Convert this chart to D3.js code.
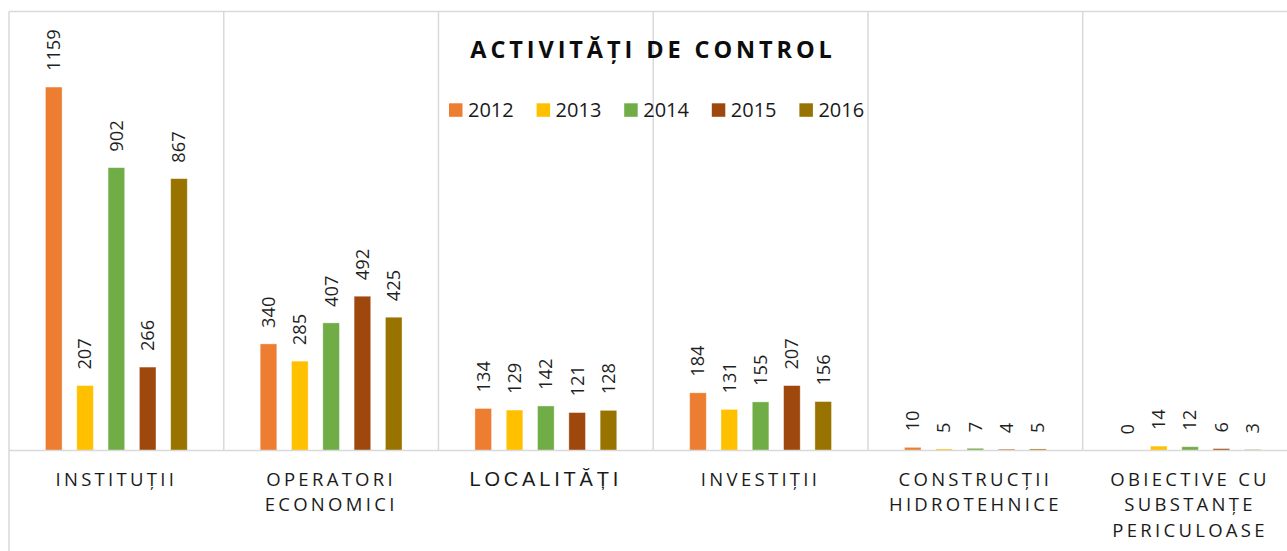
<!DOCTYPE html>
<html>
<head>
<meta charset="utf-8">
<script src="https://cdn.jsdelivr.net/npm/d3@7"></script>
<style>
  html, body { margin: 0; padding: 0; background: #fff; }
  svg { display: block; }
</style>
</head>
<body>
<svg id="chart" width="1287" height="551"></svg>
<script>
// ---- data ----
const categories = ["INSTITUȚII", "OPERATORI ECONOMICI", "LOCALITĂȚI", "INVESTIȚII", "CONSTRUCȚII HIDROTEHNICE", "OBIECTIVE CU SUBSTANȚE PERICULOASE"];
const categoryLines = [["INSTITUȚII"], ["OPERATORI", "ECONOMICI"], ["LOCALITĂȚI"], ["INVESTIȚII"], ["CONSTRUCȚII", "HIDROTEHNICE"], ["OBIECTIVE CU", "SUBSTANȚE", "PERICULOASE"]];
const years = ["2012", "2013", "2014", "2015", "2016"];
const values2012 = [1159, 340, 134, 184, 10, 0];
const values2013 = [207, 285, 129, 131, 5, 14];
const values2014 = [902, 407, 142, 155, 7, 12];
const values2015 = [266, 492, 121, 207, 4, 6];
const values2016 = [867, 425, 128, 156, 5, 3];
const seriesValues = [values2012, values2013, values2014, values2015, values2016];
const colors = ["#ED7D31", "#FFC000", "#70AD47", "#9E480E", "#997300"];
const yMax = 1400;
const title = "ACTIVITĂȚI DE CONTROL";

// ---- layout ----
const svg = d3.select("#chart");
const plotLeft = 9, plotTop = 11.5, baseY = 450.5, step = 214.74;
const x = d3.scaleBand().domain(categories).range([plotLeft, plotLeft + step * categories.length]).padding(0);
const xi = d3.scaleBand().domain(years).range([0, x.bandwidth()]).paddingInner(0.47).paddingOuter(1.165);
const y = d3.scaleLinear().domain([0, yMax]).range([baseY, plotTop]);

const grid = "#d9d9d9";
// frame
svg.append("line").attr("x1", plotLeft).attr("x2", 1287).attr("y1", plotTop).attr("y2", plotTop).attr("stroke", grid).attr("stroke-width", 1.5);
svg.append("line").attr("x1", plotLeft).attr("x2", plotLeft).attr("y1", plotTop).attr("y2", 551).attr("stroke", grid).attr("stroke-width", 1.5);
// category separators
svg.selectAll("line.sep").data(categories.slice(1)).enter().append("line")
  .attr("class", "sep")
  .attr("x1", d => x(d)).attr("x2", d => x(d))
  .attr("y1", plotTop).attr("y2", baseY)
  .attr("stroke", grid).attr("stroke-width", 1.5);

// bars
const groups = svg.selectAll("g.cat").data(categories).enter().append("g")
  .attr("class", "cat").attr("transform", d => `translate(${x(d)},0)`);

years.forEach((yr, si) => {
  groups.append("rect")
    .attr("x", xi(yr))
    .attr("width", xi.bandwidth())
    .attr("y", (d, ci) => y(seriesValues[si][ci]))
    .attr("height", (d, ci) => baseY - y(seriesValues[si][ci]))
    .attr("fill", colors[si])
    .attr("stroke", "rgba(255,255,255,0.45)")
    .attr("stroke-width", 0.8);
  groups.append("text")
    .attr("transform", (d, ci) => `translate(${xi(yr) + xi.bandwidth() / 2},${y(seriesValues[si][ci]) - 16}) rotate(-90)`)
    .attr("dy", "0.35em")
    .attr("text-anchor", "start")
    .attr("font-family", "'Open Sans', sans-serif")
    .attr("font-size", "18.3px")
    .attr("fill", "#1f1f1f")
    .text((d, ci) => seriesValues[si][ci]);
});

// baseline
svg.append("line").attr("x1", plotLeft).attr("x2", 1287).attr("y1", baseY).attr("y2", baseY).attr("stroke", grid).attr("stroke-width", 1.5);

// category labels
categories.forEach((c, ci) => {
  const isLoc = ci === 2;
  const t = svg.append("text")
    .attr("text-anchor", "middle")
    .attr("font-family", isLoc ? "'Liberation Sans', Arial, sans-serif" : "'Open Sans', sans-serif")
    .attr("font-size", isLoc ? "20px" : "18.5px")
    .attr("letter-spacing", isLoc ? "3.8px" : "3.3px")
    .attr("fill", "#1a1a1a");
  categoryLines[ci].forEach((ln, li) => {
    t.append("tspan").attr("x", x(c) + x.bandwidth() / 2).attr("y", 486 + li * 25.3).text(ln);
  });
});

// title
svg.append("text")
  .attr("x", 653).attr("y", 58.3)
  .attr("text-anchor", "middle")
  .attr("font-family", "'Open Sans', sans-serif")
  .attr("font-weight", "bold")
  .attr("font-size", "23.5px")
  .attr("letter-spacing", "3.9px")
  .attr("fill", "#0d0d0d")
  .text(title);

// legend
const lg = svg.selectAll("g.leg").data(years).enter().append("g")
  .attr("class", "leg").attr("transform", (d, i) => `translate(${449 + i * 87.6},0)`);
lg.append("rect").attr("x", 0).attr("y", 103.3).attr("width", 13.5).attr("height", 13.5).attr("fill", (d, i) => colors[i]);
lg.append("text").attr("x", 19).attr("y", 116.7)
  .attr("font-family", "'Open Sans', sans-serif").attr("font-size", "20px").attr("fill", "#1a1a1a")
  .text(d => d);
</script>
</body>
</html>
